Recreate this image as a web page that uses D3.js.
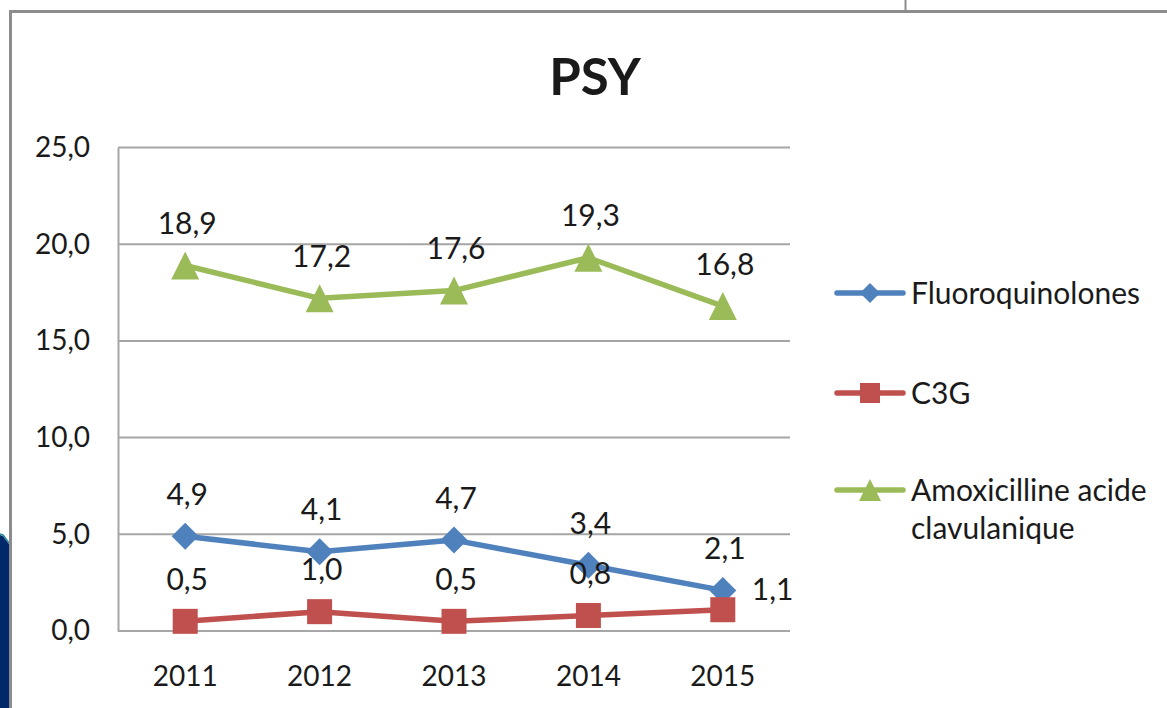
<!DOCTYPE html>
<html>
<head>
<meta charset="utf-8">
<script src="https://cdn.jsdelivr.net/npm/d3@7"></script>
<style>
  html, body { margin: 0; padding: 0; background: #fff; }
  svg { display: block; }
  text { font-family: Lato, "Liberation Sans", sans-serif; fill: #1a1a1a; }
</style>
</head>
<body>
<svg id="chart" width="1167" height="708"></svg>
<script>
// ---- data ----
const years = ["2011", "2012", "2013", "2014", "2015"];
const fluoroquinolones = [4.9, 4.1, 4.7, 3.4, 2.1];
const c3g = [0.5, 1.0, 0.5, 0.8, 1.1];
const amoxicilline = [18.9, 17.2, 17.6, 19.3, 16.8];
const yTicks = [0, 5, 10, 15, 20, 25];
const seriesNames = ["Fluoroquinolones", "C3G", "Amoxicilline acide clavulanique"];
const chartTitle = "PSY";

const series = [
  { name: seriesNames[0], values: fluoroquinolones, color: "#4f81bd", marker: "diamond" },
  { name: seriesNames[1], values: c3g, color: "#c0504d", marker: "square" },
  { name: seriesNames[2], values: amoxicilline, color: "#9bbb59", marker: "triangle" }
];

const svg = d3.select("#chart");
const W = 1167, H = 708;
const fmt = v => d3.format(".1f")(v).replace(".", ",");

// ---- decorative frame ----
svg.append("path")
  .attr("d", "M0,535 L3,536 L9,544 L9,708 L0,708 Z")
  .attr("fill", "#00286a");
svg.append("path")
  .attr("d", "M0,534 L3,535 L9,543")
  .attr("fill", "none").attr("stroke", "#2a8a9a").attr("stroke-width", 1.5);
svg.append("line").attr("x1", 905.5).attr("x2", 905.5).attr("y1", 0).attr("y2", 10)
  .attr("stroke", "#8c8c8c").attr("stroke-width", 2);
svg.append("line").attr("x1", 9).attr("x2", W).attr("y1", 11.5).attr("y2", 11.5)
  .attr("stroke", "#8c8c8c").attr("stroke-width", 3);
svg.append("line").attr("x1", 10.5).attr("x2", 10.5).attr("y1", 10).attr("y2", H)
  .attr("stroke", "#8c8c8c").attr("stroke-width", 3);

// ---- scales ----
const plot = { left: 118, right: 790, top: 147.5, bottom: 631 };
const x = d3.scaleBand().domain(years).range([plot.left, plot.right]);
const y = d3.scaleLinear().domain([0, 25]).range([plot.bottom, plot.top]);
const cx = d => x(d) + x.bandwidth() / 2;

// gridlines
svg.append("g").selectAll("line").data(yTicks).join("line")
  .attr("x1", plot.left).attr("x2", plot.right)
  .attr("y1", d => y(d)).attr("y2", d => y(d))
  .attr("stroke", "#a6a6a6").attr("stroke-width", 2);

// y axis
const yAxis = d3.axisLeft(y).tickValues(yTicks).tickFormat(fmt).tickSize(0).tickPadding(28);
const gy = svg.append("g").attr("transform", `translate(${plot.left},0)`).call(yAxis);
gy.select(".domain").attr("stroke", "#a6a6a6").attr("stroke-width", 2);
gy.selectAll("text").style("font-size", "28px").style("font-family", "Lato, sans-serif").attr("fill", "#1a1a1a");

// x axis
const xAxis = d3.axisBottom(x).tickSize(0).tickPadding(35);
const gx = svg.append("g").attr("transform", `translate(0,${plot.bottom})`).call(xAxis);
gx.select(".domain").remove();
gx.selectAll("text").style("font-size", "28px").style("font-family", "Lato, sans-serif").attr("fill", "#1a1a1a");

// title
svg.append("text").attr("x", 595).attr("y", 95).attr("text-anchor", "middle")
  .style("font-size", "51px").style("font-weight", "bold").text(chartTitle);

// ---- lines and markers ----
const line = d3.line().x((d, i) => cx(years[i])).y(d => y(d));

function drawMarker(g, type, px, py, color, s) {
  if (type === "diamond") {
    g.append("path").attr("d", `M${px},${py - s} L${px + s},${py} L${px},${py + s} L${px - s},${py} Z`).attr("fill", color);
  } else if (type === "square") {
    g.append("rect").attr("x", px - s).attr("y", py - s).attr("width", 2 * s).attr("height", 2 * s).attr("fill", color);
  } else {
    g.append("path").attr("d", `M${px},${py - s} L${px + s},${py + s} L${px - s},${py + s} Z`).attr("fill", color);
  }
}
const markerSize = { diamond: 13.5, square: 12.5, triangle: 14 };

series.forEach((s, si) => {
  const g = svg.append("g");
  g.append("path").datum(s.values).attr("d", line)
    .attr("fill", "none").attr("stroke", s.color).attr("stroke-width", 5.5).attr("stroke-linejoin", "round");
  s.values.forEach((v, i) => drawMarker(g, s.marker, cx(years[i]), y(v), s.color, markerSize[s.marker]));
});

// data labels
series.forEach((s, si) => {
  s.values.forEach((v, i) => {
    const px = cx(years[i]), py = y(v);
    const isLastC3G = si === 1 && i === s.values.length - 1;
    svg.append("text")
      .attr("x", isLastC3G ? px + 29 : px + 2)
      .attr("y", isLastC3G ? py - 20 : py - 42)
      .attr("dy", "0.35em")
      .attr("text-anchor", isLastC3G ? "start" : "middle")
      .style("font-size", "30px")
      .text(fmt(v));
  });
});

// ---- legend ----
const legendRows = [293, 393, 490];
series.forEach((s, si) => {
  const g = svg.append("g");
  const ly = legendRows[si];
  g.append("line").attr("x1", 837).attr("x2", 903).attr("y1", ly).attr("y2", ly)
    .attr("stroke", s.color).attr("stroke-width", 5.5).attr("stroke-linecap", "round");
  drawMarker(g, s.marker, 870, ly, s.color, s.marker === "triangle" ? 11 : 10);
  const words = s.name === seriesNames[2] ? ["Amoxicilline acide", "clavulanique"] : [s.name];
  const t = g.append("text").attr("x", 911).attr("y", ly).style("font-size", "30px");
  words.forEach((w, wi) => t.append("tspan").attr("x", 911).attr("dy", wi === 0 ? "0.35em" : "38px").text(w));
});
</script>
</body>
</html>
